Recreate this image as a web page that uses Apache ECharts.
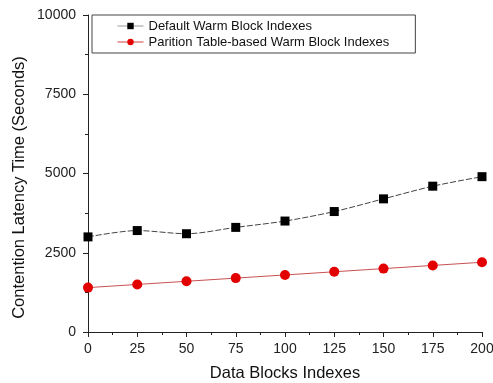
<!DOCTYPE html>
<html><head><meta charset="utf-8">
<script src="https://cdn.jsdelivr.net/npm/echarts@6/dist/echarts.min.js"></script>
<style>html,body{margin:0;padding:0;background:#fff}#c{width:493px;height:383px}</style>
</head><body><div id="c"></div>
<script>
const categories = [0, 25, 50, 75, 100, 125, 150, 175, 200];
const defaultWarm = [3000, 3200, 3100, 3300, 3500, 3800, 4200, 4600, 4900];
const partitionWarm = [1400, 1500, 1600, 1700, 1800, 1900, 2000, 2100, 2200];
const seriesNames = ['Default Warm Block Indexes', 'Parition Table-based Warm Block Indexes'];
const xTicks = [0, 25, 50, 75, 100, 125, 150, 175, 200];
const yTicks = [0, 2500, 5000, 7500, 10000];

const chart = echarts.init(document.getElementById('c'));
const font = 'Liberation Sans, Arial, sans-serif';
chart.setOption({
  animation: false,
  grid: {left: 88, right: 11, top: 15, bottom: 51, containLabel: false, outerBoundsMode: 'none'},
  legend: {
    show: true, left: 92, top: 15, orient: 'vertical',
    padding: [4, 26, 4, 25], itemGap: 2,
    borderColor: '#444', borderWidth: 1,
    itemWidth: 26, itemHeight: 8,
    textStyle: {fontFamily: font, fontSize: 13, color: '#111', lineHeight: 14},
    data: [
      {name: seriesNames[0], lineStyle: {color: '#999', width: 1, type: 'solid'}},
      {name: seriesNames[1], lineStyle: {color: '#d04040', width: 1, type: 'solid'}}
    ]
  },
  xAxis: {
    type: 'value', min: 0, max: 200, interval: 25,
    name: 'Data Blocks Indexes', nameLocation: 'middle', nameGap: 33, nameMoveOverlap: false,
    nameTextStyle: {fontFamily: font, fontSize: 16.5, color: '#111'},
    axisLine: {lineStyle: {color: '#222', width: 1}},
    axisTick: {inside: false, length: 5, lineStyle: {color: '#222'}},
    minorTick: {show: true, splitNumber: 2, length: 3, lineStyle: {color: '#222'}},
    axisLabel: {fontFamily: font, fontSize: 14, color: '#222', margin: 10,
      formatter: v => String(v)},
    splitLine: {show: false}
  },
  yAxis: {
    type: 'value', min: 0, max: 10000, interval: 2500,
    name: 'Contention Latency Time (Seconds)', nameLocation: 'middle', nameGap: 60, nameMoveOverlap: false,
    nameTextStyle: {fontFamily: font, fontSize: 16.5, color: '#111', padding: [0, 28, 0, 0]},
    axisLine: {show: true, lineStyle: {color: '#222', width: 1}},
    axisTick: {show: true, inside: false, length: 5, lineStyle: {color: '#222'}},
    minorTick: {show: true, splitNumber: 2, length: 3, lineStyle: {color: '#222'}},
    axisLabel: {fontFamily: font, fontSize: 14, color: '#222', margin: 12,
      formatter: v => String(v)},
    splitLine: {show: false}
  },
  series: [
    {
      name: seriesNames[0], type: 'line', smooth: 0.3,
      data: categories.map((x, i) => [x, defaultWarm[i]]),
      symbol: 'rect', symbolSize: 9,
      itemStyle: {color: '#000'},
      lineStyle: {color: '#444', width: 1, type: [6, 2]}
    },
    {
      name: seriesNames[1], type: 'line',
      data: categories.map((x, i) => [x, partitionWarm[i]]),
      symbol: 'circle', symbolSize: 10,
      itemStyle: {color: '#e30000'},
      lineStyle: {color: '#c85050', width: 1}
    }
  ]
});
</script></body></html>
